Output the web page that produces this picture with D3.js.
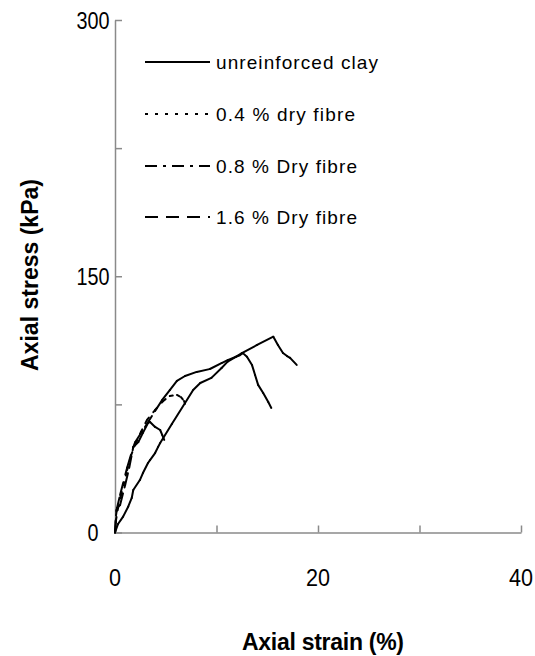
<!DOCTYPE html>
<html>
<head>
<meta charset="utf-8">
<script src="https://cdn.jsdelivr.net/npm/d3@7"></script>
<style>
  body { margin: 0; background: #fff; }
  text { font-family: "Liberation Sans Narrow", "Arial Narrow", "Liberation Sans", Arial, sans-serif; fill: #000; }
</style>
</head>
<body>
<div class="container"></div>
<script>
const width = 535;
const height = 656;

// axial strain (%), axial stress (kPa)
const unreinforcedClay = [[0,0],[0.3,5],[0.8,9.3],[1.3,15.1],[1.65,20.2],[1.8,24.9],[2.45,30.7],[2.75,34.8],[3.25,40.7],[3.45,42.4],[3.95,46.5],[4.25,50.1],[4.45,52.4],[5.6,63.5],[6.9,75.8],[7.7,83.4],[8.4,87.5],[9.5,90.5],[10.5,96.3],[11.1,100],[11.9,102.8],[12.5,105],[14.0,109.8],[15.6,114.6],[16.05,109.8],[16.55,105.1],[16.95,103.3],[17.25,102.2],[17.9,98.1]];
const dryFibre04 = [[0,0],[0.1,7.3],[0.3,14.3],[0.6,22],[1.2,36.6],[1.6,45.4],[2.05,52.4],[2.55,58.8],[3.15,65.9],[3.95,71.7],[4.75,77],[5.4,79.9],[6.1,80.5],[6.5,79.3],[6.8,77],[7.05,72.9]];
const dryFibre08 = [[0,0],[0.1,10],[0.2,14.3],[0.5,16.1],[1.0,27.8],[1.4,37.8],[1.8,50],[2.3,53],[2.75,58.3],[3.25,64.1],[3.45,64.7],[3.95,61.8],[4.45,60],[4.65,57.1],[4.85,54.2]];
const dryFibre16 = [[0,0],[0.15,13],[0.5,22],[1.2,38],[1.8,50],[2.0,53],[2.95,61.8],[3.95,71.1],[4.65,77.6],[5.4,83.4],[6.1,88.7],[6.9,91.6],[8.05,94],[9.35,95.7],[10.5,99.2],[11.1,100.9],[12.3,103.8],[12.6,105],[13.0,102.9],[13.5,98],[13.8,92.2],[14.1,86.4],[14.6,81.7],[15.1,76.4],[15.4,72.9]];

const seriesNames = ["unreinforced clay", "0.4 % dry fibre", "0.8 % Dry fibre", "1.6 % Dry fibre"];
const strainTicks = [0, 10, 20, 30, 40];
const strainLabels = [0, 20, 40];
const stressTicks = [0, 75, 150, 225, 300];
const stressLabels = [0, 150, 300];

const series = [
  { name: seriesNames[0], values: unreinforcedClay, dash: null, textW: 162 },
  { name: seriesNames[1], values: dryFibre04, dash: "3,7", textW: 139 },
  { name: seriesNames[2], values: dryFibre08, dash: "12,6,3,6", textW: 141 },
  { name: seriesNames[3], values: dryFibre16, dash: "13,8", textW: 141 }
];

const svg = d3.select(".container")
    .append("svg")
    .attr("width", width)
    .attr("height", height);

const xScale = d3.scaleLinear().domain([0, 40]).range([115, 521]);
const yScale = d3.scaleLinear().domain([0, 300]).range([532.5, 20]);

const axisColor = "#8a8a8a";
const digitW = 11; // narrow-looking digits

// axes (inside ticks, labels only every other tick)
svg.append("g")
    .attr("transform", `translate(0,${yScale(0)})`)
    .call(d3.axisBottom(xScale).tickValues(strainTicks).tickSizeInner(-7).tickSizeOuter(0).tickFormat(""));
svg.append("g")
    .attr("transform", `translate(${xScale(0)},0)`)
    .call(d3.axisLeft(yScale).tickValues(stressTicks).tickSizeInner(-7).tickSizeOuter(0).tickFormat(""));
svg.selectAll(".domain, .tick line")
    .attr("stroke", axisColor)
    .attr("stroke-width", 1.5);

svg.append("g").selectAll("text")
    .data(strainLabels)
    .enter()
    .append("text")
    .attr("x", d => xScale(d))
    .attr("y", 586)
    .attr("text-anchor", "middle")
    .attr("font-size", 23)
    .attr("textLength", d => String(d).length * 12)
    .attr("lengthAdjust", "spacingAndGlyphs")
    .text(d => d);

svg.append("g").selectAll("text")
    .data(stressLabels)
    .enter()
    .append("text")
    .attr("x", 93)
    .attr("y", d => yScale(d) + 8.5)
    .attr("text-anchor", "middle")
    .attr("font-size", 23)
    .attr("textLength", d => String(d).length * digitW)
    .attr("lengthAdjust", "spacingAndGlyphs")
    .text(d => d);

// axis titles
svg.append("text")
    .attr("x", 323)
    .attr("y", 650)
    .attr("text-anchor", "middle")
    .attr("font-size", 23)
    .attr("font-weight", "bold")
    .attr("textLength", 162)
    .attr("lengthAdjust", "spacing")
    .text("Axial strain (%)");

svg.append("text")
    .attr("transform", "translate(38,275) rotate(-90)")
    .attr("text-anchor", "middle")
    .attr("font-size", 23)
    .attr("font-weight", "bold")
    .attr("textLength", 192)
    .attr("lengthAdjust", "spacing")
    .text("Axial stress (kPa)");

// curves: the dash pattern restarts at every data point, as in the original plot
const g = svg.append("g");
series.forEach(s => {
  g.append("g").selectAll("line")
      .data(d3.pairs(s.values))
      .enter()
      .append("line")
      .attr("x1", d => xScale(d[0][0]))
      .attr("y1", d => yScale(d[0][1]))
      .attr("x2", d => xScale(d[1][0]))
      .attr("y2", d => yScale(d[1][1]))
      .attr("stroke", "#000")
      .attr("stroke-width", 2)
      .attr("stroke-linecap", "round")
      .attr("stroke-dasharray", s.dash);
});

// legend
const legend = svg.append("g");
const rowY = [62, 114, 166, 217];
series.forEach((s, i) => {
  legend.append("line")
      .attr("x1", 145)
      .attr("x2", 210)
      .attr("y1", rowY[i])
      .attr("y2", rowY[i])
      .attr("stroke", "#000")
      .attr("stroke-width", 2)
      .attr("stroke-dasharray", s.dash);
  legend.append("text")
      .attr("x", 216)
      .attr("y", rowY[i] + 7)
      .attr("font-size", 19)
      .attr("textLength", s.textW)
      .attr("lengthAdjust", "spacing")
      .text(s.name);
});
</script>
</body>
</html>
